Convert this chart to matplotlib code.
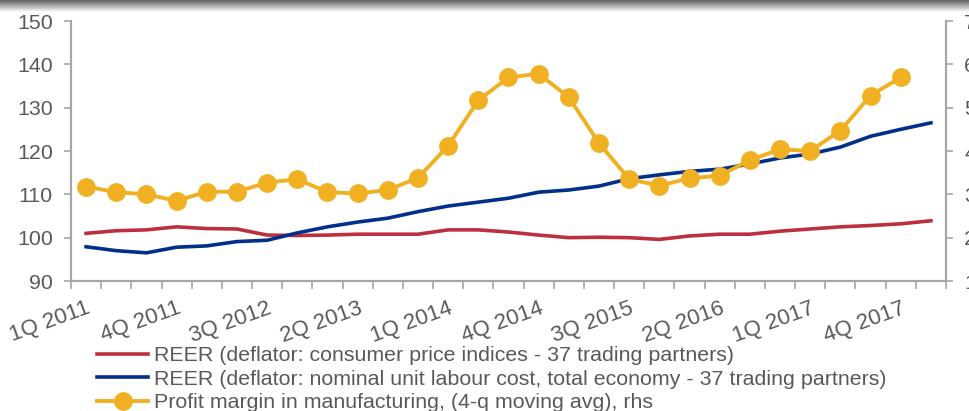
import numpy as np
import matplotlib
matplotlib.use('Agg')
import matplotlib.pyplot as plt

plt.rcParams['font.family'] = ['Liberation Sans', 'DejaVu Sans']

# quarters 1Q 2011 .. 1Q 2018
quarters = [f'{q}Q {y}' for y in range(2011, 2019) for q in range(1, 5)][:29]

# REER, deflator: CPI (lhs)
reer_cpi = [101.0, 101.6, 101.8, 102.5, 102.1, 102.0, 100.6, 100.5, 100.6, 100.8,
            100.8, 100.8, 101.8, 101.8, 101.3, 100.6, 100.0, 100.1, 100.0, 99.6,
            100.4, 100.8, 100.8, 101.5, 102.0, 102.5, 102.8, 103.2, 103.9]
# REER, deflator: nominal ULC (lhs)
reer_ulc = [97.9, 97.0, 96.5, 97.8, 98.1, 99.1, 99.4, 101.1, 102.5, 103.6,
            104.5, 106.0, 107.3, 108.2, 109.1, 110.5, 111.0, 111.9, 113.6, 114.5,
            115.3, 115.8, 117.0, 118.4, 119.3, 120.9, 123.4, 125.0, 126.5]
# profit margin in manufacturing, 4-q moving avg (rhs), up to 4Q 2017
profit = [3.18, 3.05, 3.00, 2.85, 3.06, 3.06, 3.27, 3.35, 3.05, 3.02,
          3.10, 3.38, 4.12, 5.17, 5.70, 5.78, 5.24, 4.18, 3.35, 3.20,
          3.37, 3.43, 3.79, 4.04, 4.00, 4.47, 5.28, 5.70]

labels = ['REER (deflator: consumer price indices - 37 trading partners)',
          'REER (deflator: nominal unit labour cost, total economy - 37 trading partners)',
          'Profit margin in manufacturing, (4-q moving avg), rhs']

red = '#BE2F3E'
blue = '#00308A'
yellow = '#F0B022'
grey = '#A6A6A6'
txt = '#595959'
fs = 15.4

fig = plt.figure(figsize=(9.69, 4.11), dpi=100)
ax = fig.add_axes([71 / 969, 1 - 281 / 411, 875 / 969, 260 / 411])
ax2 = ax.twinx()

x = np.arange(len(quarters))
l1, = ax.plot(x, reer_cpi, color=red, lw=2.6, label=labels[0], zorder=2)
l2, = ax.plot(x, reer_ulc, color=blue, lw=2.6, label=labels[1], zorder=3)
l3, = ax2.plot(np.arange(len(profit)), profit, color=yellow, lw=2.8, marker='o',
               ms=12.5, mec=yellow, label=labels[2])

ax.set_ylim(90, 150)
ax.set_yticks(range(90, 151, 10))
ax2.set_ylim(1, 7)
ax2.set_yticks(range(1, 8))
ax.set_xlim(-0.5, len(quarters) - 0.5)

ax.set_xticks(x[::3])
ax.set_xticklabels(quarters[::3], rotation=20, ha='right', rotation_mode='anchor')
ax.set_xticks(np.arange(-0.5, len(quarters)), minor=True)
ax.tick_params(axis='x', which='major', length=0, pad=12, labelsize=16, labelcolor=txt)
ax.tick_params(axis='x', which='minor', length=6, width=1.2, color=grey)
ax.tick_params(axis='y', length=5, width=1.2, color=grey, labelsize=fs, labelcolor=txt, pad=8)
ax2.tick_params(axis='y', length=5, width=1.2, color=grey, labelsize=fs, labelcolor=txt, pad=8)

for a in (ax, ax2):
    a.spines['top'].set_visible(False)
    for s in ('left', 'right', 'bottom'):
        a.spines[s].set_color(grey)
        a.spines[s].set_linewidth(1.5)

ax.set_zorder(ax2.get_zorder() - 1)
ax.patch.set_visible(False)

fig.legend(handles=[l1, l2, l3], loc='upper left', bbox_to_anchor=(97 / 969, 1 - 346 / 411),
           frameon=False, fontsize=fs, labelcolor=txt, handlelength=2.4,
           handletextpad=0.25, labelspacing=0.22, borderpad=0, borderaxespad=0)

# screenshot shadow along the top edge
sh = fig.add_axes([0, 1 - 12 / 411, 1, 12 / 411])
grad = np.linspace(0, 1, 50).reshape(-1, 1)
sh.imshow(grad, aspect='auto', cmap='gray', vmin=-0.6, vmax=1.0, extent=(0, 1, 0, 1))
sh.axis('off')

fig.savefig('out.png', dpi=100)
